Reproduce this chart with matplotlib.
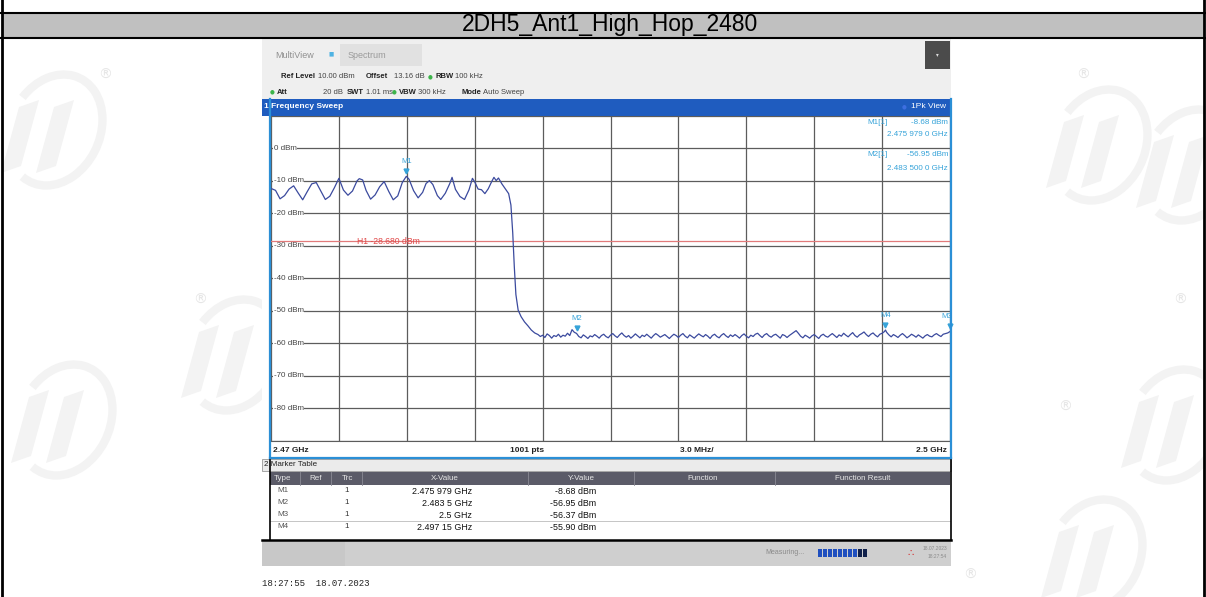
import numpy as np
import matplotlib.pyplot as plt
from matplotlib.patches import Rectangle, Arc, Polygon

title = "2DH5_Ant1_High_Hop_2480"

# trace in the hopping band (MHz, dBm)
band_mhz = [2470.0, 2470.2, 2470.4, 2470.6, 2470.8, 2471.0, 2471.2, 2471.4, 2471.6, 2471.8,
            2472.0, 2472.2, 2472.4, 2472.6, 2472.8, 2473.0, 2473.2, 2473.4, 2473.6, 2473.8,
            2473.9, 2474.05, 2474.2, 2474.4, 2474.6, 2474.8, 2475.0, 2475.2, 2475.4, 2475.6,
            2475.8, 2476.1, 2476.3, 2476.5, 2476.7, 2476.85, 2477.0, 2477.15, 2477.35, 2477.5,
            2477.7, 2477.9, 2478.0, 2478.15, 2478.35, 2478.55, 2478.75, 2478.9, 2479.0, 2479.15,
            2479.3, 2479.45, 2479.6, 2479.75, 2479.85, 2479.95, 2480.05, 2480.2, 2480.35, 2480.5,
            2480.6, 2480.68, 2480.75, 2480.82, 2480.92, 2481.05, 2481.2, 2481.35, 2481.5, 2481.65]
band_dbm = [-12.4, -13.0, -15.6, -14.6, -12.6, -11.6, -13.8, -15.9, -13.4, -11.0,
            -10.6, -13.2, -15.8, -14.8, -12.2, -9.3, -12.9, -14.5, -13.2, -10.1,
            -9.4, -9.8, -13.0, -15.7, -14.4, -11.9, -10.3, -13.3, -15.9, -14.7,
            -10.6, -9.6, -13.1, -15.3, -13.6, -10.9, -10.0, -11.2, -14.6, -15.8,
            -13.9, -10.9, -9.0, -12.7, -14.9, -15.8, -12.8, -9.3, -10.4, -12.6,
            -12.8, -14.0, -12.5, -10.3, -9.0, -10.0, -9.2, -11.0, -12.5, -14.0,
            -17.5, -26.0, -36.5, -45.0, -49.8, -51.8, -53.4, -54.6, -55.9, -56.8]

# noise floor above the band edge, 0.1 MHz steps from 2481.8 MHz
floor_start, floor_step = 2481.8, 0.1
floor_dbm = [-57.3, -57.9, -57.5, -58.2, -57.1, -57.6, -58.4, -57.6, -57.9, -57.2,
             -58.1, -57.5, -57.8, -56.9, -57.6, -55.8, -56.6, -57.0, -57.9, -58.3,
             -57.4, -57.9, -58.5, -57.7, -58.0, -57.3, -57.8, -58.4, -57.6, -57.2,
             -57.9, -58.3, -57.5, -57.0, -57.7, -58.2, -57.4, -56.8, -57.6, -58.1,
             -57.6, -58.4, -57.8, -57.1, -57.7, -58.3, -57.5, -57.9, -57.2, -57.8,
             -58.4, -57.6, -57.0, -57.5, -58.1, -57.7, -57.3, -57.9, -58.5, -57.8,
             -57.2, -57.6, -58.2, -57.5, -57.0, -57.8, -58.3, -57.4, -57.9, -58.4,
             -57.7, -57.1, -57.6, -58.0, -57.3, -57.8, -58.5, -57.6, -57.2, -57.9,
             -58.3, -57.5, -57.0, -57.7, -58.2, -57.4, -57.9, -57.3, -57.8, -58.4,
             -57.6, -57.1, -57.8, -58.3, -57.5, -57.9, -57.2, -56.9, -57.6, -58.2,
             -57.4, -57.0, -57.7, -58.1, -57.5, -57.2, -57.8, -58.4, -57.3, -57.6,
             -58.2, -57.6, -57.1, -56.6, -56.1, -56.9, -57.8, -58.3, -57.5, -57.9,
             -58.4, -57.7, -57.3, -57.9, -58.5, -57.6, -57.2, -57.8, -58.1, -57.5,
             -57.0, -57.6, -58.2, -57.4, -57.8, -56.9, -57.5, -58.0, -57.3, -56.7,
             -57.6, -58.1, -57.4, -57.0, -56.5, -57.3, -57.9, -57.2, -56.8, -57.5,
             -58.0, -57.2, -56.9, -56.4, -56.6, -57.4, -58.0, -57.3, -57.7, -58.2,
             -57.5, -57.0, -57.6, -58.3, -57.8, -57.2, -57.6, -58.1, -57.4, -57.9,
             -58.4, -57.7, -57.3, -57.8, -58.0, -57.4, -57.0, -57.5, -57.9, -57.2,
             -57.0, -56.8, -56.4]

# markers
marker_names = ["M1", "M2", "M3", "M4"]
marker_ghz = [2.475979, 2.4835, 2.5, 2.49715]
marker_dbm = [-8.68, -56.95, -56.37, -55.90]
marker_x_text = ["2.475 979 GHz", "2.483 5 GHz", "2.5 GHz", "2.497 15 GHz"]

h1_level = -28.68
ref_level = 10.0
y_ticks = [0, -10, -20, -30, -40, -50, -60, -70, -80]

plt.rcParams["font.family"] = ["Liberation Sans", "DejaVu Sans"]

W, H = 1206, 597
fig = plt.figure(figsize=(W / 100, H / 100), dpi=100)
fig.patch.set_facecolor("white")

# page layer in pixel units (y down)
bg = fig.add_axes([0, 0, 1, 1])
bg.set_xlim(0, W)
bg.set_ylim(H, 0)
bg.axis("off")


def rect(x0, y0, x1, y1, fc, ec="none", lw=0, z=1):
    bg.add_patch(Rectangle((x0, y0), x1 - x0, y1 - y0, fc=fc, ec=ec, lw=lw, zorder=z))


def txt(x, y, s, size=6, color="#222222", ha="left", weight="normal", z=5, **kw):
    bg.text(x, y, s, fontsize=size, color=color, ha=ha, va="center",
            fontweight=weight, zorder=z, **kw)


def logo(cx, cy):
    # faint company mark: slanted letters inside a swoosh
    wm = "#f3f3f3"
    bg.add_patch(Arc((cx + 10, cy - 5), 90, 115, angle=25, theta1=200, theta2=100,
                     color=wm, lw=6, zorder=0))
    for dx in (-30, 5):
        bg.add_patch(Polygon([(cx + dx - 14, cy + 38), (cx + dx + 4, cy - 28),
                              (cx + dx + 24, cy - 35), (cx + dx + 6, cy + 31)],
                             closed=True, fc=wm, ec="none", zorder=0))


for (wx, wy) in [(45, 135), (225, 360), (55, 425), (1090, 150), (1180, 170),
                 (1165, 430), (1085, 560)]:
    logo(wx, wy)
for (rx, ry) in [(105, 75), (200, 300), (1083, 75), (1180, 300), (1065, 407), (970, 575)]:
    txt(rx, ry, "\u00ae", size=10, color="#e6e6e6", ha="center", z=0, family="DejaVu Sans")

# report table frame and title band
rect(2, 13, 1204, 37, "#c0c0c0", z=1)
bg.plot([1, 1205], [12.5, 12.5], color="black", lw=1.5, zorder=2)
bg.plot([1, 1205], [37.5, 37.5], color="black", lw=1.5, zorder=2)
bg.plot([2, 2], [0, H], color="black", lw=2, zorder=2)
bg.plot([1204, 1204], [0, H], color="black", lw=2, zorder=2)
txt(610, 25, title, size=16.5, color="black", ha="center")

# instrument header
rect(262, 38, 951, 99, "#efefef")
rect(340, 44, 422, 66, "#e1e1e1", z=2)
txt(275, 55, "MultiView", size=6.5, color="#8f8f8f")
txt(331, 54, "\u25a0", size=4, color="#4fb3e3", ha="center", family="DejaVu Sans")
txt(348, 55, "Spectrum", size=6.5, color="#9a9a9a")
rect(925, 41, 950, 69, "#4b4b4b", z=2)
txt(937.5, 55, "\u25be", size=4, color="#dddddd", ha="center", family="DejaVu Sans")

txt(281, 77, "Ref Level", weight="bold", size=5.5)
txt(318, 77, "10.00 dBm", size=5.5, color="#444444")
txt(366, 77, "Offset", weight="bold", size=5.5)
txt(394, 77, "13.16 dB", size=5.5, color="#444444")
txt(430, 77, "\u25cf", size=4, color="#3cb44a", ha="center", family="DejaVu Sans")
txt(435, 77, "RBW", weight="bold", size=5.5)
txt(455, 77, "100 kHz", size=5.5, color="#444444")

txt(272, 92, "\u25cf", size=4, color="#3cb44a", ha="center", family="DejaVu Sans")
txt(277, 92, "Att", weight="bold", size=5.5)
txt(323, 92, "20 dB", size=5.5, color="#444444")
txt(347, 92, "SWT", weight="bold", size=5.5)
txt(366, 92, "1.01 ms", size=5.5, color="#444444")
txt(394, 92, "\u25cf", size=4, color="#3cb44a", ha="center", family="DejaVu Sans")
txt(399, 92, "VBW", weight="bold", size=5.5)
txt(418, 92, "300 kHz", size=5.5, color="#444444")
txt(462, 92, "Mode", weight="bold", size=5.5)
txt(483, 92, "Auto Sweep", size=5.5, color="#444444")

# window title bar
rect(262, 99, 951, 115.5, "#1f5cbf", z=2)
txt(264, 106, "1 Frequency Sweep", size=6, color="white", weight="bold", z=6)
txt(904, 107, "\u25cf", size=4, color="#3d6fe0", ha="center", family="DejaVu Sans", z=6)
txt(946, 107, "1Pk View", size=6, color="white", ha="right", z=6)

# spectrum window
x0p, x1p, y0p, y1p = 271, 950, 115.5, 441
ax = fig.add_axes([x0p / W, 1 - y1p / H, (x1p - x0p) / W, (y1p - y0p) / H])
ax.set_xlim(2.47, 2.50)
ax.set_ylim(-90, ref_level)
ax.set_xticks(np.linspace(2.47, 2.50, 11))
ax.set_yticks(np.arange(-90, 11, 10))
ax.grid(True, color="#5c5c5c", lw=0.9)
ax.tick_params(length=0, labelbottom=False, labelleft=False)
for s in ax.spines.values():
    s.set_visible(False)
ax.spines["bottom"].set_visible(True)
ax.spines["bottom"].set_color("#5c5c5c")
ax.set_facecolor("white")
ax.set_zorder(3)
pix = bg.transData

for lv in y_ticks:
    ax.text(2.47012, lv, f"{lv} dBm", fontsize=5.8, color="#444444", va="center", ha="left",
            bbox=dict(fc="white", ec="none", pad=0.3), zorder=4)

ax.axhline(h1_level, color="#e27a7a", lw=0.9, zorder=4)
ax.text(2.4738, h1_level, f"H1 {h1_level:.3f} dBm", fontsize=6.2, color="#e04848",
        va="center", ha="left", zorder=4)

# assemble trace: band + floor + marker points
floor_mhz = floor_start + floor_step * np.arange(len(floor_dbm))
fm = np.array(floor_mhz)
fd = np.array(floor_dbm)
keep = np.ones(len(fm), bool)
for mg in marker_ghz:
    keep &= np.abs(fm - mg * 1000) > 0.02
tr_f = np.concatenate([np.array(band_mhz) / 1000, fm[keep] / 1000, np.array(marker_ghz)])
tr_d = np.concatenate([band_dbm, fd[keep], marker_dbm])
order = np.argsort(tr_f)
ax.plot(tr_f[order], tr_d[order], color="#3b4a9e", lw=0.9, zorder=5)

mcol = "#36a3d9"
for name, mg, md in zip(marker_names, marker_ghz, marker_dbm):
    ax.plot(mg, md + 1.6, marker="v", ms=3.5, color=mcol, mec=mcol, zorder=6, clip_on=False)
    tx = min(mg, 2.49985)
    ax.text(tx, md + 4.6, name, fontsize=5.5, color=mcol, ha="center", va="center",
            zorder=6, clip_on=True)

# marker readout, upper right
for (x, y, s, ha) in [(867, 122, "M1[1]", "left"),
                      (948, 122, f"{marker_dbm[0]:.2f} dBm", "right"),
                      (948, 135, "2.475 979 0 GHz", "right"),
                      (867, 155, "M2[1]", "left"),
                      (948, 155, f"{marker_dbm[1]:.2f} dBm", "right"),
                      (948, 168, "2.483 500 0 GHz", "right")]:
    ax.text(x, y, s, transform=pix, fontsize=5.8, color=mcol, ha=ha, va="center", zorder=7)

# window border, drawn over the plot area edges
bcol = "#2b8fd6"
rect(262, 115.5, 269, 458, "white", z=2)
for (xs, ys) in [([269.5, 269.5], [99, 458]), ([950.5, 950.5], [99, 458]),
                 ([269.5, 950.5], [458, 458])]:
    ax.plot(xs, ys, transform=pix, color=bcol, lw=1.6, zorder=8, clip_on=False)

txt(273, 450, "2.47 GHz", size=6, weight="bold", color="#222222")
txt(510, 450, "1001 pts", size=6, weight="bold", color="#222222")
txt(680, 450, "3.0 MHz/", size=6, weight="bold", color="#222222")
txt(947, 450, "2.5 GHz", size=6, weight="bold", color="#222222", ha="right")

# marker table window
rect(262, 459, 951, 471, "#ebebeb", ec="#999999", lw=0.6, z=2)
txt(264, 465, "2 Marker Table", size=5.8, color="#222222")
rect(270, 472, 950, 485, "#5b5b68", z=2)
cols = [("Type", 283), ("Ref", 316), ("Trc", 347), ("X-Value", 445), ("Y-Value", 581),
        ("Function", 703), ("Function Result", 863)]
for name, cx in cols:
    txt(cx, 478.5, name, size=5.8, color="#e6e6e6", ha="center", z=6)
for sx in [300, 331, 362, 528, 634, 775]:
    bg.plot([sx, sx], [472, 485], color="#8a8a95", lw=0.6, zorder=6)
rect(270, 485, 950, 539, "white", z=2)
row_y = [491, 503, 515, 527]
for name, xt, md, ry in zip(marker_names, marker_x_text, marker_dbm, row_y):
    txt(283, ry, name, size=5.8, color="#555555", ha="center")
    txt(347, ry, "1", size=5.8, color="#333333", ha="center")
    txt(472, ry, xt, size=6.4, color="#111111", ha="right")
    txt(596, ry, f"{md:.2f} dBm", size=6.4, color="#111111", ha="right")
bg.plot([270, 950], [521, 521], color="#bbbbbb", lw=0.6, zorder=6)
bg.plot([262, 951], [540, 540], color="black", lw=1.8, zorder=6)
bg.plot([269.5, 269.5], [459, 540], color="black", lw=1.2, zorder=6)
bg.plot([950.5, 950.5], [459, 540], color="black", lw=1.2, zorder=6)

# status bar
rect(262, 541, 951, 566, "#cfcfcf", z=2)
rect(262, 541, 345, 566, "#c8c8c8", z=2)
txt(765, 553, "Measuring...", size=5, color="#8a8a8a", z=6)
for i in range(10):
    rect(818 + i * 5, 549, 822 + i * 5, 557, "#1f4fbf" if i < 8 else "#10204a", z=3)
txt(910, 553, "\u2234", size=7, color="#d42020", ha="center", family="DejaVu Sans")
txt(947, 549, "18.07.2023", size=3.5, color="#8a8a8a", ha="right")
txt(947, 557, "18:27:54", size=3.5, color="#8a8a8a", ha="right")

txt(262, 583, "18:27:55  18.07.2023", size=6.5, color="#222222",
    family=["Liberation Mono", "DejaVu Sans Mono"])

fig.savefig("out.png", dpi=100)
